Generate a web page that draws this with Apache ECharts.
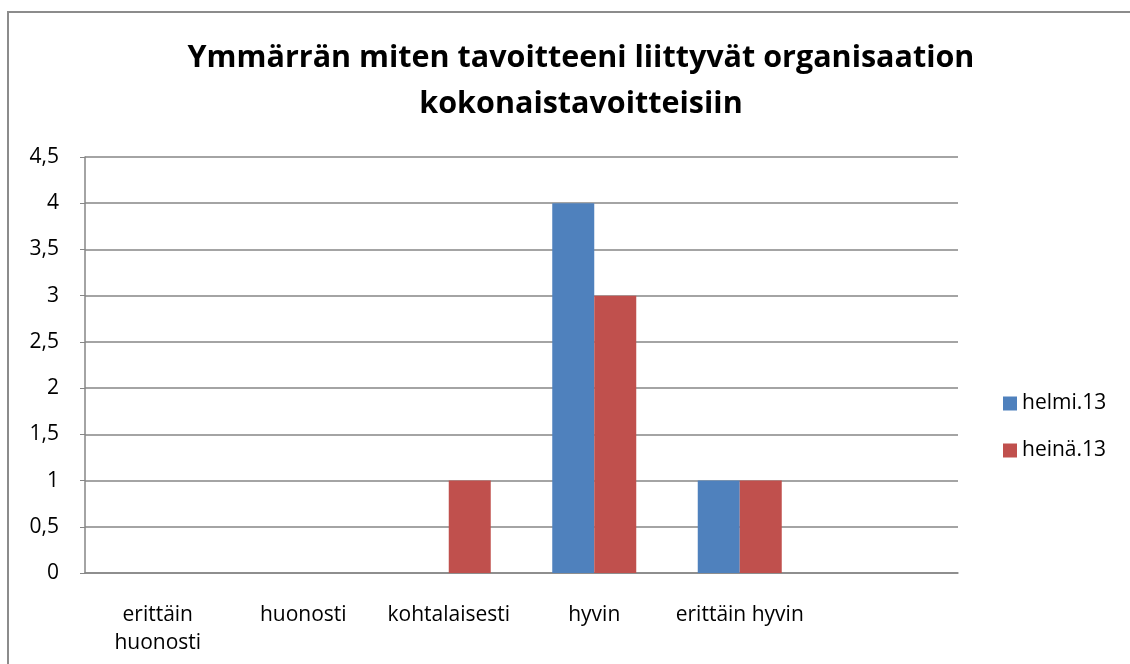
<!DOCTYPE html>
<html>
<head>
<meta charset="utf-8">
<script src="https://cdn.jsdelivr.net/npm/echarts@6/dist/echarts.min.js"></script>
<style>
  html, body { margin: 0; padding: 0; background: #fff; }
  #chart { width: 1130px; height: 664px; }
</style>
</head>
<body>
<div id="chart"></div>
<script>
// kategoriat (viimeinen tyhjä paikka kuten alkuperäisessä)
const categories = ['erittäin\nhuonosti', 'huonosti', 'kohtalaisesti', 'hyvin', 'erittäin hyvin', '']
const helmi = [null, null, null, 4, 1, null]
const heina = [null, null, 1, 3, 1, null]
const seriesNames = ['helmi.13', 'heinä.13']

const myChart = echarts.init(document.getElementById('chart'))
const font = 'Open Sans, Noto Sans, sans-serif'
myChart.setOption({
  animation: false,
  color: ['#4F81BD', '#C0504D'],
  textStyle: { fontFamily: font, color: '#000' },
  title: {
    text: 'Ymmärrän miten tavoitteeni liittyvät organisaation\nkokonaistavoitteisiin',
    left: 576,
    textAlign: 'center',
    top: 30,
    textStyle: { fontSize: 30.5, fontWeight: 'bold', lineHeight: 46, color: '#000', fontFamily: font }
  },
  graphic: [
    {
      type: 'rect',
      shape: { x: 8, y: 12, width: 1200, height: 800 },
      style: { fill: null, stroke: '#8c8c8c', lineWidth: 2 },
      silent: true
    }
  ],
  legend: {
    data: seriesNames,
    orient: 'vertical',
    left: 998,
    top: 388,
    itemWidth: 14,
    itemHeight: 14,
    itemGap: 26,
    icon: 'rect',
    textStyle: { fontSize: 21, lineHeight: 21, color: '#000', fontFamily: font }
  },
  grid: { left: 85, right: 172, top: 157, bottom: 91 },
  xAxis: {
    type: 'category',
    data: categories,
    axisLine: { lineStyle: { color: '#868686', width: 1.5 } },
    axisTick: { show: false },
    axisLabel: { fontSize: 21, color: '#000', margin: 28, lineHeight: 28, interval: 0 }
  },
  yAxis: {
    type: 'value',
    min: 0,
    max: 4.5,
    interval: 0.5,
    axisLine: { show: true, lineStyle: { color: '#868686', width: 1.5 } },
    axisTick: { show: true, length: 5, lineStyle: { color: '#868686' } },
    splitLine: { lineStyle: { color: '#868686', width: 1.5 } },
    axisLabel: {
      fontSize: 21,
      color: '#000',
      margin: 26,
      formatter: v => String(v).replace('.', ',')
    }
  },
  series: [
    { name: seriesNames[0], type: 'bar', data: helmi, barWidth: 42, barGap: '0%' },
    { name: seriesNames[1], type: 'bar', data: heina, barWidth: 42, barGap: '0%' }
  ]
})
</script>
</body>
</html>
